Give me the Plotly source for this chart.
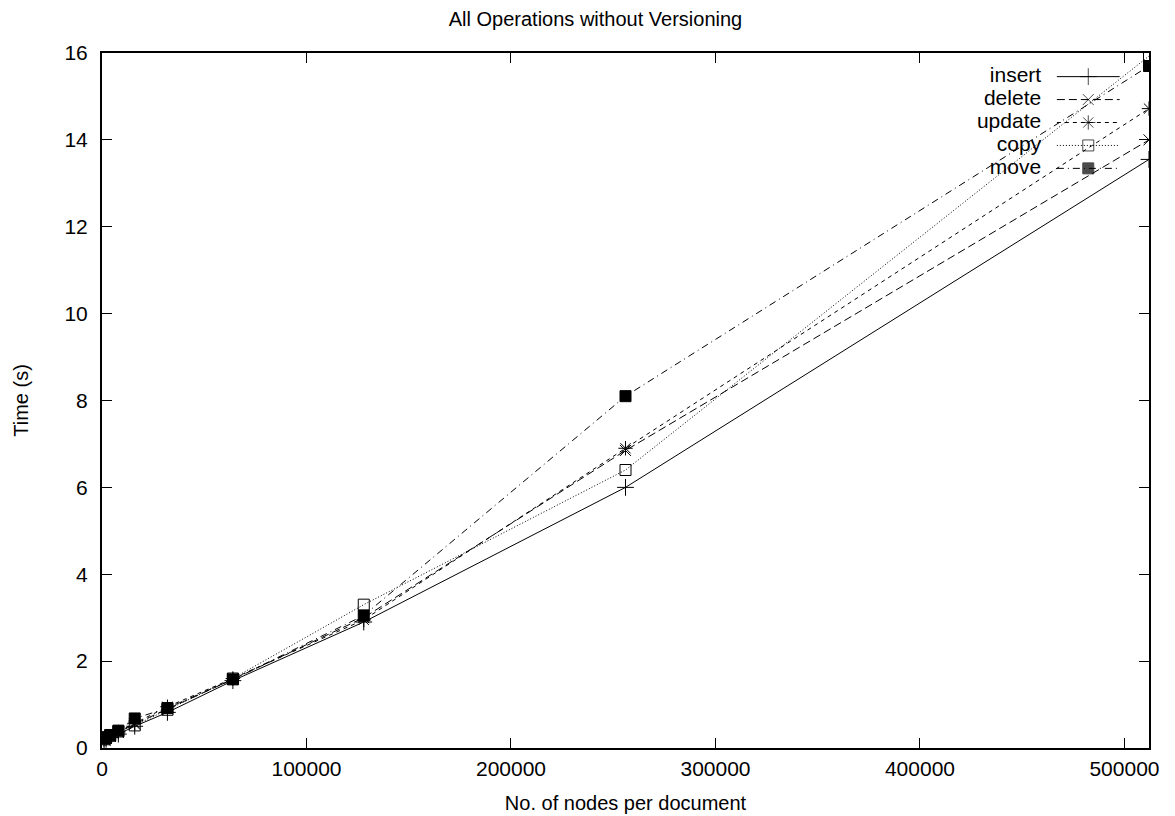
import plotly.graph_objects as go

nodes = [1000, 2000, 4000, 8000, 16000, 32000, 64000, 128000, 256000, 512000]
insert = [0.18, 0.20, 0.24, 0.32, 0.50, 0.82, 1.55, 2.90, 6.00, 13.55]
delete = [0.20, 0.22, 0.27, 0.36, 0.55, 0.90, 1.58, 3.00, 6.85, 14.00]
update = [0.20, 0.22, 0.27, 0.37, 0.57, 0.95, 1.60, 2.95, 6.90, 14.72]
copy = [0.20, 0.23, 0.28, 0.38, 0.52, 0.88, 1.60, 3.30, 6.40, 15.93]
move = [0.22, 0.25, 0.30, 0.40, 0.68, 0.92, 1.58, 3.05, 8.10, 15.70]

series_names = ["insert", "delete", "update", "copy", "move"]
series_values = [insert, delete, update, copy, move]
x_ticks = [0, 100000, 200000, 300000, 400000, 500000]
y_ticks = [0, 2, 4, 6, 8, 10, 12, 14, 16]

styles = {
    "insert": dict(dash="solid", symbol="cross-thin-open", size=12),
    "delete": dict(dash="8px,4px", symbol="x-thin-open", size=11),
    "update": dict(dash="4px,4px", symbol="asterisk-open", size=12),
    "copy": dict(dash="1px,2px", symbol="square-open", size=11),
    "move": dict(dash="7px,4px,1px,4px", symbol="square", size=11),
}

FONT = "Liberation Sans, Arial, Helvetica, sans-serif"
fig = go.Figure()

for name, vals in zip(series_names, series_values):
    st = styles[name]
    fig.add_trace(go.Scatter(
        x=nodes, y=vals, mode="lines+markers", name=name, showlegend=False,
        line=dict(color="black", width=1, dash=st["dash"]),
        marker=dict(symbol=st["symbol"], size=st["size"], color="black",
                    line=dict(color="black", width=1)),
    ))

# gnuplot-style key (text right, sample left->right) on an overlay axis in [0,1]
KEY_X0, KEY_X1 = 0.912, 0.972
KEY_TEXT_X = 0.897
KEY_TOP, KEY_STEP = 0.966, 0.033
key_y = [KEY_TOP - i * KEY_STEP for i in range(len(series_names))]
for name, yk in zip(series_names, key_y):
    st = styles[name]
    xm = (KEY_X0 + KEY_X1) / 2
    fig.add_trace(go.Scatter(
        x=[KEY_X0, xm, KEY_X1], y=[yk, yk, yk], mode="lines+markers",
        xaxis="x2", yaxis="y2", showlegend=False, hoverinfo="skip",
        line=dict(color="black", width=1, dash=st["dash"]),
        marker=dict(symbol=st["symbol"], size=[0, st["size"], 0], color="black",
                    line=dict(color="black", width=1)),
    ))
fig.add_trace(go.Scatter(
    x=[KEY_TEXT_X] * len(series_names), y=key_y, mode="text", text=series_names,
    textposition="middle left", xaxis="x2", yaxis="y2", showlegend=False,
    hoverinfo="skip", textfont=dict(family=FONT, size=21, color="black"),
))

axis_common = dict(showgrid=False, zeroline=False, showline=True, linecolor="black",
                   linewidth=2, mirror="ticks", ticks="inside", ticklen=10,
                   tickwidth=1, tickcolor="black", automargin=False,
                   tickfont=dict(family=FONT, size=21, color="black"))

fig.update_layout(
    width=1175, height=816,
    margin=dict(l=94, r=34, t=45, b=76),
    paper_bgcolor="white", plot_bgcolor="white",
    title=dict(text="All Operations without Versioning", x=0.5, xanchor="center",
               y=1 - 11 / 816, yanchor="middle",
               font=dict(family=FONT, size=20, color="black")),
    xaxis=dict(range=[0, 512000], tickvals=x_ticks, ticktext=[str(v) for v in x_ticks],
               ticklabelstandoff=1,
               title=dict(text="No. of nodes per document", standoff=17,
                          font=dict(family=FONT, size=20, color="black")),
               **axis_common),
    yaxis=dict(range=[0, 16], tickvals=y_ticks, ticktext=[str(v) for v in y_ticks],
               ticklabelstandoff=8,
               title=dict(text="Time (s)", standoff=30,
                          font=dict(family=FONT, size=20, color="black")),
               **axis_common),
    xaxis2=dict(overlaying="x", range=[0, 1], visible=False, fixedrange=True),
    yaxis2=dict(overlaying="y", range=[0, 1], visible=False, fixedrange=True),
)

fig.write_html("out.html")
